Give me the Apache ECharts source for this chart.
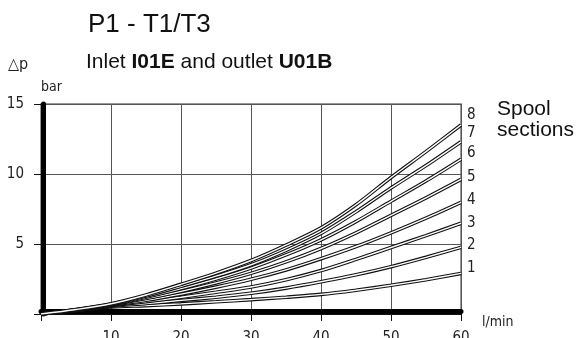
<!DOCTYPE html>
<html>
<head>
<meta charset="utf-8">
<script src="https://cdn.jsdelivr.net/npm/echarts@6/dist/echarts.min.js"></script>
<style>
  html, body { margin: 0; padding: 0; background: #fff; }
  #chart { width: 582px; height: 338px; }
</style>
</head>
<body>
<div id="chart"></div>
<script>
// Flow rate (l/min) at which each pressure drop is read
const flow = [0, 5, 10, 15, 20, 25, 30, 35, 40, 45, 50, 55, 60];

// Pressure drop (bar) for 1 to 8 spool sections
const dp1 = [0, 0.25, 0.50, 0.60, 0.72, 0.87, 1.03, 1.20, 1.40, 1.70, 2.05, 2.45, 2.90];
const dp2 = [0, 0.26, 0.55, 0.75, 0.97, 1.20, 1.48, 1.85, 2.30, 2.80, 3.38, 4.05, 4.76];
const dp3 = [0, 0.27, 0.60, 0.88, 1.20, 1.55, 1.93, 2.45, 3.10, 3.90, 4.75, 5.60, 6.48];
const dp4 = [0, 0.28, 0.63, 0.98, 1.42, 1.92, 2.48, 3.15, 3.95, 4.82, 5.80, 6.85, 7.98];
const dp5 = [0, 0.29, 0.66, 1.10, 1.62, 2.22, 2.90, 3.72, 4.68, 5.80, 7.05, 8.30, 9.62];
const dp6 = [0, 0.30, 0.68, 1.20, 1.82, 2.50, 3.28, 4.22, 5.30, 6.60, 8.05, 9.50, 11.05];
const dp7 = [0, 0.31, 0.70, 1.28, 1.98, 2.70, 3.52, 4.55, 5.75, 7.30, 9.00, 10.60, 12.30];
const dp8 = [0, 0.32, 0.73, 1.36, 2.12, 2.92, 3.82, 4.92, 6.15, 7.80, 9.75, 11.60, 13.50];

const curves = [
  { name: '1', values: dp1, labelDy: -5 },
  { name: '2', values: dp2, labelDy: -2 },
  { name: '3', values: dp3, labelDy: 0 },
  { name: '4', values: dp4, labelDy: -2 },
  { name: '5', values: dp5, labelDy: -2 },
  { name: '6', values: dp6, labelDy: -6 },
  { name: '7', values: dp7, labelDy: -9 },
  { name: '8', values: dp8, labelDy: -10 }
];

const xTicks = [0, 10, 20, 30, 40, 50, 60];
const yTicks = [0, 5, 10, 15];

const narrow = "'Liberation Sans Narrow', 'DejaVu Sans Condensed', sans-serif";
const sans = "'Liberation Sans', Arial, sans-serif";

const series = [];
curves.forEach(c => {
  const pts = flow.map((q, i) => [q, c.values[i]]);
  // outer black stroke
  series.push({
    type: 'line', name: c.name, data: pts, smooth: 0.3, symbol: 'none',
    lineStyle: { color: '#111', width: 3.6 },
    silent: true, animation: false,
    endLabel: {
      show: true, formatter: c.name, distance: 6, offset: [0, c.labelDy],
      fontFamily: narrow, fontSize: 15, color: '#222'
    }
  });
  // white core to give the double-line look
  series.push({
    type: 'line', data: pts, smooth: 0.3, symbol: 'none',
    lineStyle: { color: '#fff', width: 1.4 },
    silent: true, animation: false
  });
});

const chart = echarts.init(document.getElementById('chart'), null, { renderer: 'canvas' });
chart.setOption({
  backgroundColor: '#fff',
  animation: false,
  title: [
    { text: 'P1 - T1/T3', left: 88, top: 12, padding: 0,
      textStyle: { fontFamily: sans, fontSize: 26, fontWeight: 'normal', color: '#111' } },
    { text: '△p', left: 8, top: 57, padding: 0,
      textStyle: { fontFamily: narrow, fontSize: 16, fontWeight: 'normal', color: '#222' } },
    { text: 'Inlet {b|I01E} and outlet {b|U01B}', left: 86, top: 52, padding: 0,
      textStyle: { fontFamily: sans, fontSize: 21, fontWeight: 'normal', color: '#111',
        rich: { b: { fontFamily: sans, fontSize: 21, fontWeight: 'bold', color: '#111' } } } },
    { text: 'Spool\nsections', left: 497, top: 99, padding: 0,
      textStyle: { fontFamily: sans, fontSize: 21, lineHeight: 21, fontWeight: 'normal', color: '#111' } }
  ],
  grid: { left: 41, right: 121, top: 104, bottom: 24, outerBoundsMode: 'none', containLabel: false,
    show: true, borderColor: '#777', borderWidth: 1.5 },
  xAxis: [
    {
      type: 'value', min: xTicks[0], max: xTicks[xTicks.length - 1], interval: 10,
      name: 'l/min', nameLocation: 'end', nameGap: 21,
      nameTextStyle: { fontFamily: narrow, fontSize: 14, color: '#222', align: 'left', verticalAlign: 'top', padding: [1, 0, 0, 0] },
      axisLine: { show: true, lineStyle: { color: '#111', width: 1 } },
      axisTick: { show: true, inside: false, length: 7, lineStyle: { color: '#111', width: 1 } },
      axisLabel: { margin: 17, fontFamily: narrow, fontSize: 15, color: '#222', verticalAlign: 'top',
        formatter: v => (v === 0 ? '' : String(v)) },
      splitLine: { show: true, lineStyle: { color: '#555', width: 1 } }
    },
    {
      // heavy base bar along the bottom of the plot
      type: 'value', min: xTicks[0], max: xTicks[xTicks.length - 1], position: 'bottom', offset: -2.5,
      axisLine: { show: true, lineStyle: { color: '#000', width: 5 } },
      axisTick: { show: false }, axisLabel: { show: false }, splitLine: { show: false }
    }
  ],
  yAxis: [
    {
      type: 'value', min: yTicks[0], max: yTicks[yTicks.length - 1], interval: 5,
      name: 'bar', nameLocation: 'end', nameGap: 10,
      nameTextStyle: { fontFamily: narrow, fontSize: 14, color: '#222', align: 'left', verticalAlign: 'bottom' },
      axisLine: { show: true, lineStyle: { color: '#111', width: 1 } },
      axisTick: { show: true, inside: false, length: 7, lineStyle: { color: '#111', width: 1 } },
      axisLabel: { margin: 17, fontFamily: narrow, fontSize: 15, color: '#222',
        formatter: v => (v === 0 ? '' : String(v)) },
      splitLine: { show: true, lineStyle: { color: '#555', width: 1 } }
    },
    {
      // heavy bar along the left edge of the plot
      type: 'value', min: yTicks[0], max: yTicks[yTicks.length - 1], position: 'left', offset: -2.5,
      axisLine: { show: true, lineStyle: { color: '#000', width: 5 } },
      axisTick: { show: false }, axisLabel: { show: false }, splitLine: { show: false }
    }
  ],
  series: series
});
</script>
</body>
</html>
